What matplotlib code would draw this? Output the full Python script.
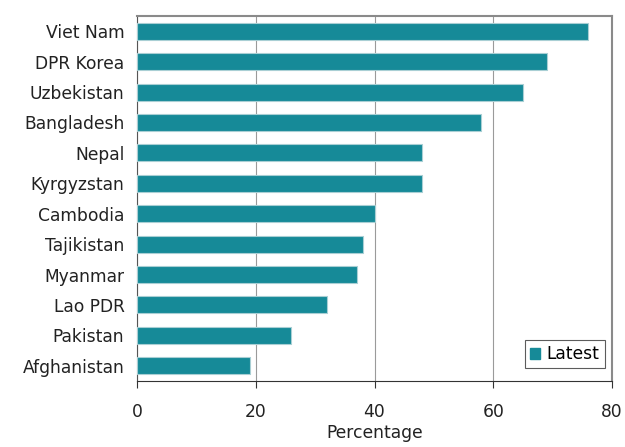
import matplotlib
matplotlib.use("Agg")
import matplotlib.pyplot as plt
from matplotlib.patches import Patch

countries = ["Viet Nam", "DPR Korea", "Uzbekistan", "Bangladesh", "Nepal", "Kyrgyzstan",
             "Cambodia", "Tajikistan", "Myanmar", "Lao PDR", "Pakistan", "Afghanistan"]
latest = [76, 69, 65, 58, 48, 48, 40, 38, 37, 32, 26, 19]
xticks = [0, 20, 40, 60, 80]
series_name = "Latest"

plt.rcParams['font.family'] = ['DejaVu Sans']
fig = plt.figure(figsize=(6.25, 4.47), dpi=100)
ax = fig.add_axes([137/625, 1 - 381/447, 475/625, 365/447])

color = "#168a98"
ypos = list(range(len(countries)))
ax.barh(ypos, latest, height=0.56, color=color, edgecolor="#a9cfd4", linewidth=0.8, zorder=3)
ax.set_yticks(ypos)
ax.set_yticklabels(countries, fontsize=12.3, color="#222222")
ax.set_ylim(len(countries) - 0.5, -0.5)
ax.set_xlim(0, 80)
ax.set_xticks(xticks)
ax.set_xticklabels([str(t) for t in xticks], fontsize=12.3, color="#222222")
ax.tick_params(axis='y', length=0, pad=9)
ax.tick_params(axis='x', length=5, direction='out', color="#333333", pad=11)
ax.grid(axis='x', color="#9a9a9a", linewidth=0.8, zorder=0)
for s in ["top", "right"]:
    ax.spines[s].set_color("#8a8a8a")
    ax.spines[s].set_linewidth(1.5)
ax.spines["left"].set_color("#555555")
ax.spines["bottom"].set_color("#333333")
ax.set_xlabel("Percentage", fontsize=12.3, color="#222222", labelpad=2)

leg = ax.legend(handles=[Patch(facecolor=color, edgecolor=color, label=series_name)],
                loc="lower right", bbox_to_anchor=(0.985, 0.035), fontsize=12.3,
                frameon=True, fancybox=False, handlelength=0.6, handleheight=0.6,
                handletextpad=0.4, borderpad=0.3, borderaxespad=0)
leg.get_frame().set_edgecolor("#333333")
leg.get_frame().set_linewidth(0.8)

fig.savefig("out.png", dpi=100)
